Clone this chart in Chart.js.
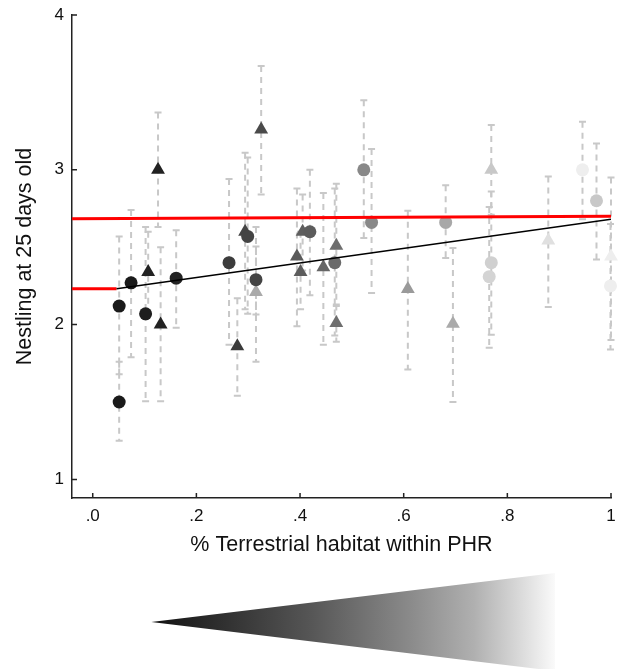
<!DOCTYPE html>
<html>
<head>
<meta charset="utf-8">
<script src="https://cdn.jsdelivr.net/npm/chart.js@4.4.1/dist/chart.umd.min.js"></script>
<style>
    html, body { margin: 0; padding: 0; background: #fff; }
    #myChart { display: block; }
</style>
</head>
<body>
<canvas id="myChart" width="619" height="669"></canvas>
<script>
// circles
let circX = [0.051, 0.051, 0.074, 0.102, 0.161, 0.263, 0.299, 0.315, 0.419, 0.467, 0.523, 0.538, 0.681, 0.769, 0.765, 0.945, 0.972, 0.999];
let circY = [2.12, 1.50, 2.27, 2.07, 2.30, 2.40, 2.57, 2.29, 2.60, 2.40, 3.00, 2.66, 2.66, 2.40, 2.31, 3.00, 2.80, 2.25];
let circLo = [1.68, 1.25, 1.79, 1.505, 1.98, 1.87, 2.07, 1.76, 2.19, 1.93, 2.56, 2.205, 2.43, 1.935, 1.85, 2.68, 2.42, 1.84];
let circHi = [2.57, 1.76, 2.74, 2.63, 2.61, 2.94, 3.08, 2.63, 3.00, 2.88, 3.45, 3.135, 2.90, 2.86, 2.76, 3.31, 3.17, 2.65];
let circShade = ["#1a1a1a", "#1a1a1a", "#1a1a1a", "#1e1e1e", "#232323", "#3c3c3c", "#444444", "#444444", "#5c5c5c", "#6a6a6a",
    "#888888", "#888888", "#a8a8a8", "#d0d0d0", "#d4d4d4", "#eeeeee", "#c8c8c8", "#eeeeee"];

// triangles
let triX = [0.107, 0.126, 0.131, 0.279, 0.294, 0.315, 0.325, 0.394, 0.401, 0.405, 0.445, 0.470, 0.470, 0.608, 0.695, 0.769, 0.879, 1.0];
let triY = [2.34, 3.00, 2.00, 1.86, 2.60, 2.21, 3.26, 2.44, 2.34, 2.60, 2.37, 2.51, 2.01, 2.23, 2.005, 3.00, 2.544, 2.44];
let triLo = [2.08, 2.63, 1.505, 1.54, 2.10, 2.065, 2.84, 1.99, 2.10, 2.35, 1.87, 2.12, 1.89, 1.71, 1.50, 2.71, 2.114, 1.90];
let triHi = [2.60, 3.37, 2.50, 2.17, 3.11, 2.505, 3.67, 2.88, 2.60, 2.84, 2.85, 2.91, 2.13, 2.735, 2.495, 3.29, 2.957, 2.95];
let triShade = ["#222222", "#222222", "#222222", "#3a3a3a", "#444444", "#aaaaaa", "#4a4a4a", "#5a5a5a", "#5c5c5c", "#5e5e5e",
    "#666666", "#6e6e6e", "#6e6e6e", "#9a9a9a", "#aaaaaa", "#c8c8c8", "#e0e0e0", "#eeeeee"];

// fitted lines
let fitX = [0.046, 1.0];
let fitY = [2.232, 2.68];
let refX = [-0.04, 1.0];
let refY = [2.684, 2.70];
let refShortX = [-0.04, 0.046];
let refShortY = [2.232, 2.232];

let xTicks = [0, 0.2, 0.4, 0.6, 0.8, 1];
let xTickLabels = [".0", ".2", ".4", ".6", ".8", "1"];
let yTicks = [1, 2, 3, 4];

// wedge under the x axis (in x-scale units)
let wedgeFrom = 0.113;
let wedgeTo = 0.892;

function pts(xs, ys) {
    let out = [];
    for (let i = 0; i < xs.length; i++) out.push({x: xs[i], y: ys[i]});
    return out;
}

let errorBars = {
    id: "errorBars",
    beforeDatasetsDraw: function (chart) {
        let ctx = chart.ctx;
        let sx = chart.scales.x, sy = chart.scales.y;
        let sets = [[circX, circLo, circHi], [triX, triLo, triHi]];
        ctx.save();
        ctx.strokeStyle = "#c8c8c8";
        ctx.lineWidth = 2;
        for (let s = 0; s < sets.length; s++) {
            let xs = sets[s][0], lo = sets[s][1], hi = sets[s][2];
            for (let i = 0; i < xs.length; i++) {
                let px = sx.getPixelForValue(xs[i]);
                let top = sy.getPixelForValue(hi[i]);
                let bot = sy.getPixelForValue(lo[i]);
                ctx.setLineDash([6, 5]);
                ctx.beginPath();
                ctx.moveTo(px, top);
                ctx.lineTo(px, bot);
                ctx.stroke();
                ctx.setLineDash([]);
                ctx.beginPath();
                ctx.moveTo(px - 3.5, top);
                ctx.lineTo(px + 3.5, top);
                ctx.moveTo(px - 3.5, bot);
                ctx.lineTo(px + 3.5, bot);
                ctx.stroke();
            }
        }
        ctx.restore();
    },
    afterDraw: function (chart) {
        let ctx = chart.ctx;
        let sx = chart.scales.x, sy = chart.scales.y;
        let area = chart.chartArea;
        ctx.save();
        // inner tick marks
        ctx.strokeStyle = "#222";
        ctx.lineWidth = 1.5;
        ctx.beginPath();
        xTicks.forEach(function (v) {
            let px = sx.getPixelForValue(v);
            ctx.moveTo(px, area.bottom);
            ctx.lineTo(px, area.bottom - 5);
        });
        yTicks.forEach(function (v) {
            let py = sy.getPixelForValue(v);
            ctx.moveTo(area.left, py);
            ctx.lineTo(area.left + 5, py);
        });
        ctx.stroke();
        // grey wedge
        let x0 = sx.getPixelForValue(wedgeFrom);
        let x1 = sx.getPixelForValue(wedgeTo);
        let cy = area.bottom + 124;
        let grad = ctx.createLinearGradient(x0, 0, x1, 0);
        grad.addColorStop(0, "#111111");
        grad.addColorStop(0.39, "#555555");
        grad.addColorStop(0.64, "#8a8a8a");
        grad.addColorStop(0.80, "#b0b0b0");
        grad.addColorStop(0.92, "#dcdcdc");
        grad.addColorStop(1, "#fafafa");
        ctx.fillStyle = grad;
        ctx.beginPath();
        ctx.moveTo(x0, cy);
        ctx.lineTo(x1, cy - 49);
        ctx.lineTo(x1, cy + 49);
        ctx.closePath();
        ctx.fill();
        ctx.restore();
    }
};

let ctx = document.getElementById("myChart").getContext("2d");
let myChart = new Chart(ctx, {
    type: "scatter",
    data: {
        datasets: [
            {
                label: "fit", type: "line", data: pts(fitX, fitY), order: 0,
                borderColor: "#000", borderWidth: 1.5, pointRadius: 0, fill: false
            },
            {
                label: "ref", type: "line", data: pts(refX, refY), order: 0,
                borderColor: "#ff0000", borderWidth: 3, pointRadius: 0, fill: false
            },
            {
                label: "ref2", type: "line", data: pts(refShortX, refShortY), order: 0,
                borderColor: "#ff0000", borderWidth: 3, pointRadius: 0, fill: false
            },
            {
                label: "circles", data: pts(circX, circY), order: 1, clip: false,
                pointStyle: "circle", pointRadius: 6.5, borderWidth: 0,
                backgroundColor: circShade, borderColor: circShade
            },
            {
                label: "triangles", data: pts(triX, triY), order: 1, clip: false,
                pointStyle: "triangle", pointRadius: 8, borderWidth: 0,
                backgroundColor: triShade, borderColor: triShade
            }
        ]
    },
    options: {
        responsive: false,
        animation: false,
        maintainAspectRatio: false,
        devicePixelRatio: 1,
        layout: { padding: { top: 15, right: 6, bottom: 0, left: 0 } },
        plugins: { legend: { display: false }, tooltip: { enabled: false } },
        scales: {
            x: {
                type: "linear", min: -0.04, max: 1.0,
                grid: { display: false, drawTicks: false },
                border: { display: true, color: "#222", width: 1.5 },
                afterBuildTicks: function (s) { s.ticks = xTicks.map(function (v) { return {value: v}; }); },
                afterFit: function (s) { s.height = 171; s.paddingLeft = 0; s.paddingRight = 0; },
                ticks: {
                    autoSkip: false, maxRotation: 0, padding: 8, color: "#111",
                    font: { family: "Liberation Sans", size: 17 },
                    callback: function (v) { return xTickLabels[xTicks.indexOf(v)]; }
                },
                title: {
                    display: true, text: "% Terrestrial habitat within PHR", color: "#111",
                    font: { family: "Liberation Sans", size: 21.5 },
                    padding: { top: 0, bottom: 111 }
                }
            },
            y: {
                type: "linear", min: 0.88, max: 4.0,
                grid: { display: false, drawTicks: false },
                border: { display: true, color: "#222", width: 1.5 },
                afterBuildTicks: function (s) { s.ticks = yTicks.map(function (v) { return {value: v}; }); },
                afterFit: function (s) { s.width = 72; s.paddingTop = 0; s.paddingBottom = 0; },
                ticks: {
                    padding: 8, color: "#111",
                    font: { family: "Liberation Sans", size: 17 }
                },
                title: {
                    display: true, text: "Nestling at 25 days old", color: "#111",
                    font: { family: "Liberation Sans", size: 21.5 },
                    padding: { top: 12, bottom: 0 }
                }
            }
        }
    },
    plugins: [errorBars]
});
</script>
</body>
</html>
